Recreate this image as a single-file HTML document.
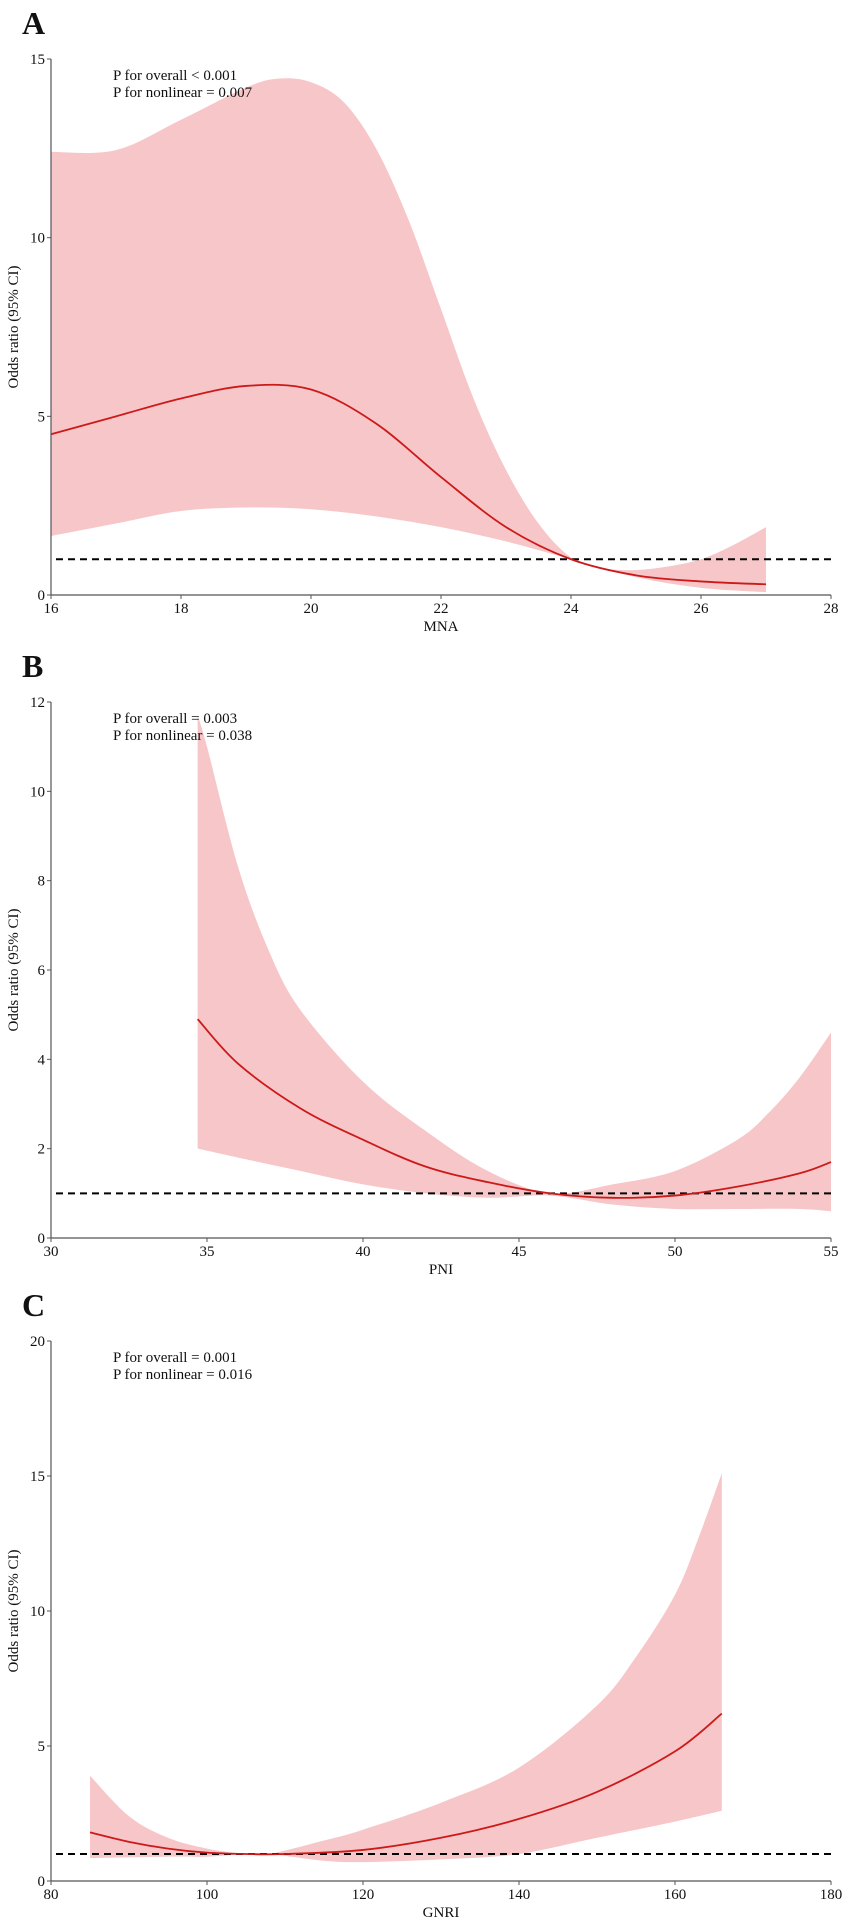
<!DOCTYPE html>
<html><head><meta charset="utf-8">
<style>
html,body{margin:0;padding:0;background:#fff;}
svg{display:block;font-family:"Liberation Serif",serif;}
</style></head>
<body>
<svg id="chart" width="850" height="1927" viewBox="0 0 850 1927" xmlns="http://www.w3.org/2000/svg"></svg>
<script>
// Panel A (MNA)
const aX = [16,17,18,19,19.5,20,20.5,21,21.5,22,22.5,23,23.5,24,24.5,25,25.5,26,26.5,27];
const aUpper = [12.4,12.45,13.3,14.2,14.45,14.35,13.8,12.5,10.5,8,5.5,3.5,2.0,1.05,0.75,0.7,0.8,1.0,1.4,1.9];
const aLowerX = [16,17,18,19,20,21,22,23,24,25,26,27];
const aLower = [1.65,2.0,2.35,2.45,2.4,2.2,1.9,1.5,1.0,0.5,0.2,0.08];
const aLineX = [16,17,18,19,20,21,22,23,24,25,26,27];
const aOR = [4.5,5.0,5.5,5.85,5.75,4.8,3.3,1.9,1.0,0.55,0.38,0.3];
const aXTicks = [16,18,20,22,24,26,28];
const aYTicks = [0,5,10,15];
// Panel B (PNI)
const bUpperX = [34.7,35,36,37,38,40,42,44,46,48,50,52,53,54,55];
const bUpper = [11.7,11,8.3,6.4,5.1,3.5,2.4,1.5,1.0,1.2,1.5,2.2,2.8,3.6,4.6];
const bLowerX = [34.7,36,38,40,42,44,46,48,50,52,54,55];
const bLower = [2.0,1.8,1.5,1.2,1.0,0.9,0.95,0.75,0.65,0.65,0.65,0.6];
const bLineX = [34.7,36,38,40,42,44,46,48,50,52,54,55];
const bOR = [4.9,3.9,2.9,2.2,1.6,1.25,1.0,0.9,0.95,1.15,1.45,1.7];
const bXTicks = [30,35,40,45,50,55];
const bYTicks = [0,2,4,6,8,10,12];
// Panel C (GNRI)
const cUpperX = [85,90,95,100,105,108,115,120,130,140,150,155,160,163,166];
const cUpper = [3.9,2.4,1.6,1.2,1.0,1.0,1.5,1.9,2.9,4.2,6.5,8.3,10.6,12.7,15.1];
const cLowerX = [85,95,100,105,108,115,120,130,140,150,160,166];
const cLower = [0.85,0.9,0.9,1.0,1.0,0.75,0.7,0.8,1.0,1.6,2.2,2.6];
const cLineX = [85,90,95,100,105,110,120,130,140,150,160,166];
const cOR = [1.8,1.45,1.2,1.05,1.0,1.0,1.15,1.6,2.3,3.3,4.8,6.2];
const cXTicks = [80,100,120,140,160,180];
const cYTicks = [0,5,10,15,20];

const NS = "http://www.w3.org/2000/svg";
const svg = document.getElementById('chart');
function mk(tag, attrs, parent){
  const e = document.createElementNS(NS, tag);
  for (const k in attrs) e.setAttribute(k, attrs[k]);
  (parent||svg).appendChild(e);
  return e;
}
function smooth(pts){
  let d = `M${pts[0][0]},${pts[0][1]}`;
  for (let i=0;i<pts.length-1;i++){
    const p0=pts[Math.max(0,i-1)], p1=pts[i], p2=pts[i+1], p3=pts[Math.min(pts.length-1,i+2)];
    const c1=[p1[0]+(p2[0]-p0[0])/6, p1[1]+(p2[1]-p0[1])/6];
    const c2=[p2[0]-(p3[0]-p1[0])/6, p2[1]-(p3[1]-p1[1])/6];
    d += ` C${c1[0]},${c1[1]} ${c2[0]},${c2[1]} ${p2[0]},${p2[1]}`;
  }
  return d;
}
function panel(cfg){
  const g = mk('g', {});
  
  
  const L=51, R=831;
  const sx = v => L + (v-cfg.xmin)/(cfg.xmax-cfg.xmin)*(R-L);
  const sy = v => cfg.y0 - (v-cfg.ymin)/(cfg.ymax-cfg.ymin)*(cfg.y0-cfg.ytop);
  const up = cfg.ux.map((x,i)=>[sx(x),sy(cfg.u[i])]);
  const lo = cfg.lx.map((x,i)=>[sx(x),sy(cfg.l[i])]).reverse();
  let d = smooth(up);
  d += ` L${lo[0][0]},${lo[0][1]}` + smooth(lo).replace(/^M[^C]*/, ' ') + ' Z';
  const band = mk('path', {d:d, fill:'#f7c6c8', stroke:'none'}, g);
  
  
  const ref = mk('line', {x1:L+5, x2:R+2, y1:sy(1), y2:sy(1), stroke:'#000', 'stroke-width':2, 'stroke-dasharray':'7,5'}, g);
  
  
  const ln = mk('path', {d:smooth(cfg.mx.map((x,i)=>[sx(x),sy(cfg.m[i])])), fill:'none', stroke:'#cc1a1a', 'stroke-width':1.8}, g);
  
  
  const ya = mk('line', {x1:L, x2:L, y1:cfg.ytop, y2:cfg.y0, stroke:'#555', 'stroke-width':1.2}, g);
  
  
  const xa = mk('line', {x1:L, x2:R, y1:cfg.y0, y2:cfg.y0, stroke:'#555', 'stroke-width':1.2}, g);
  
  
  cfg.yt.forEach(v=>{
    mk('line',{x1:L-4,x2:L,y1:sy(v),y2:sy(v),stroke:'#555','stroke-width':1},g);
    const t = mk('text',{x:L-6,y:sy(v)+5,'text-anchor':'end','font-size':15,fill:'#111'},g);
    
    
    t.textContent = v;
  });
  cfg.xt.forEach(v=>{
    mk('line',{x1:sx(v),x2:sx(v),y1:cfg.y0,y2:cfg.y0+4,stroke:'#555','stroke-width':1},g);
    const t = mk('text',{x:sx(v),y:cfg.y0+18,'text-anchor':'middle','font-size':15,fill:'#111'},g);
    
    
    t.textContent = v;
  });
  const xt = mk('text',{x:(L+R)/2,y:cfg.y0+36,'text-anchor':'middle','font-size':15,fill:'#111'},g);
  
  
  xt.textContent = cfg.xlabel;
  const cy = (cfg.ytop+cfg.y0)/2;
  const yt = mk('text',{x:18,y:cy,'text-anchor':'middle','font-size':15,fill:'#111',transform:`rotate(-90 18 ${cy})`},g);
  
  
  yt.textContent = 'Odds ratio (95% CI)';
  const pl = mk('text',{x:22,y:cfg.ytop-25,'font-size':32,'font-weight':'bold',fill:'#111'},g);
  
  
  pl.textContent = cfg.letter;
  const a1 = mk('text',{x:113,y:cfg.ytop+21,'font-size':15,fill:'#111'},g);
  
  
  a1.textContent = cfg.p1;
  const a2 = mk('text',{x:113,y:cfg.ytop+38,'font-size':15,fill:'#111'},g);
  
  
  a2.textContent = cfg.p2;
}
panel({name:'panel-a-mna', letter:'A', xmin:16, xmax:28, ymin:0, ymax:15, ytop:59, y0:595,
  ux:aX, u:aUpper, lx:aLowerX, l:aLower, mx:aLineX, m:aOR, xt:aXTicks, yt:aYTicks, xlabel:'MNA',
  p1:'P for overall < 0.001', p2:'P for nonlinear = 0.007'});
panel({name:'panel-b-pni', letter:'B', xmin:30, xmax:55, ymin:0, ymax:12, ytop:702, y0:1238,
  ux:bUpperX, u:bUpper, lx:bLowerX, l:bLower, mx:bLineX, m:bOR, xt:bXTicks, yt:bYTicks, xlabel:'PNI',
  p1:'P for overall = 0.003', p2:'P for nonlinear = 0.038'});
panel({name:'panel-c-gnri', letter:'C', xmin:80, xmax:180, ymin:0, ymax:20, ytop:1341, y0:1881,
  ux:cUpperX, u:cUpper, lx:cLowerX, l:cLower, mx:cLineX, m:cOR, xt:cXTicks, yt:cYTicks, xlabel:'GNRI',
  p1:'P for overall = 0.001', p2:'P for nonlinear = 0.016'});
</script>
</body></html>
